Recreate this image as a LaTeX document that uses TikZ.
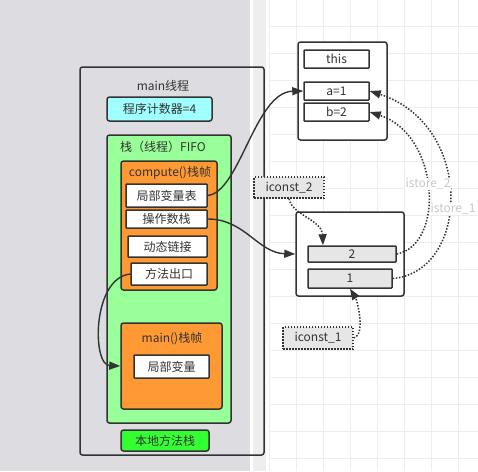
\documentclass[tikz,border=0pt]{standalone}
\usepackage{fontspec}
\setmainfont{Noto Sans CJK SC}
\usepackage{xcolor}
\usetikzlibrary{arrows.meta}
\definecolor{bg}{HTML}{DCDCE1}
\definecolor{band}{HTML}{EEEEEF}
\definecolor{gridc}{HTML}{EDEDED}
\definecolor{edge}{HTML}{333333}
\definecolor{pcc}{HTML}{A0FFFF}
\definecolor{stackg}{HTML}{99FF99}
\definecolor{frameo}{HTML}{FF9933}
\definecolor{nativeg}{HTML}{33FF33}
\definecolor{cellg}{HTML}{E6E6E6}
\definecolor{faint}{HTML}{C8C8C8}
\tikzset{
  box/.style={draw=edge, line width=1.5pt, rounded corners=2.5pt, inner sep=0pt},
  cell/.style={draw=edge, line width=1.5pt, fill=white, rounded corners=0.6pt, inner sep=0pt},
  dotbox/.style={draw=edge, line width=1.5pt, dash pattern=on 1.5pt off 1.5pt, fill=cellg, inner sep=0pt},
  gridln/.style={draw=gridc, line width=0.8pt},
  link/.style={draw=edge, line width=1.4pt, -{Triangle[length=11pt,width=8pt]}},
  dotlink/.style={draw=edge, line width=1.5pt, dash pattern=on 1.5pt off 1.6pt, -{Triangle[length=11pt,width=8pt]}},
  lab/.style={text=edge, font=\fontsize{12}{14}\selectfont},
  labf/.style={text=faint, font=\fontsize{12}{14}\selectfont, fill=white, inner sep=1pt},
}

\begin{document}
\begin{tikzpicture}[x=1pt,y=-1pt]
  \useasboundingbox (0,0) rectangle (478,471);
  \fill[white] (0,0) rectangle (478,471);
  \fill[bg] (0,0) rectangle (250,471);
  \fill[band] (253,0) rectangle (266,471);
  \foreach \x in {269,296,...,458}{
    \draw[gridln] (\x,0) -- (\x,471);
  }
  \foreach \y in {26,53,...,458}{
    \draw[gridln] (269,\y) -- (478,\y);
  }

  % thread
  \node[box, minimum width=184pt, minimum height=388pt] (thread) at (172,261) {};
  \node[lab] (threadlab) at (163,86) {main线程};
  \node[box, lab, fill=pcc, minimum width=105pt, minimum height=24pt] (pc) at (159.5,109) {程序计数器=4};
  \node[box, fill=stackg, minimum width=124pt, minimum height=288pt] (stack) at (169,279) {};
  \node[lab] (stacklab) at (163,147) {栈（线程）FIFO};

  % compute() frame
  \node[box, fill=frameo, minimum width=96pt, minimum height=129pt] (comp) at (169,225.5) {};
  \node[lab] (complab) at (170,173) {compute()栈帧};
  \node[cell, lab, minimum width=81pt, minimum height=23pt] (lvt) at (166.5,195.5) {局部变量表};
  \node[cell, lab, minimum width=81pt, minimum height=18pt] (ops) at (166.5,219) {操作数栈};
  \node[cell, lab, minimum width=79pt, minimum height=21pt] (dyn) at (167.5,246.5) {动态链接};
  \node[cell, lab, minimum width=76pt, minimum height=22pt] (ret) at (169,274) {方法出口};

  % main() frame
  \node[box, fill=frameo, minimum width=101pt, minimum height=86pt] (mainf) at (171.5,366) {};
  \node[lab] (mainlab) at (172,339) {main()栈帧};
  \node[cell, lab, minimum width=75pt, minimum height=23pt] (lv) at (171.5,366.5) {局部变量};
  \node[box, lab, fill=nativeg, minimum width=88pt, minimum height=21pt] (native) at (165,440.5) {本地方法栈};

  % heap object
  \node[box, fill=white, minimum width=89pt, minimum height=98pt] (obj) at (342.5,91) {};
  \node[cell, lab, minimum width=65pt, minimum height=18pt] (this) at (336.5,59) {this};
  \node[cell, lab, minimum width=65pt, minimum height=18pt] (a1) at (336.5,91) {a=1};
  \node[cell, lab, minimum width=65pt, minimum height=18pt] (b2) at (336.5,112) {b=2};

  % operand stack
  \node[box, fill=white, minimum width=108pt, minimum height=84pt] (opstk) at (350,254) {};
  \node[cell, lab, fill=cellg, minimum width=88pt, minimum height=16pt] (two) at (352,254) {2};
  \node[cell, lab, fill=cellg, minimum width=84pt, minimum height=19pt] (one) at (350,278.5) {1};
  \node[dotbox, lab, minimum width=70pt, minimum height=21pt] (ic2) at (289,187.5) {iconst\_2};
  \node[dotbox, lab, minimum width=70pt, minimum height=22pt] (ic1) at (318,338) {iconst\_1};

  % connectors
  \draw[link] (lvt.east) .. controls (240,192) and (255,92) .. (a1.west);
  \draw[link] (ops.east) .. controls (245,219) and (258,253) .. (opstk.west);
  \draw[link] (ret.west) .. controls (92,278) and (92,365) .. (mainf.west);
  \draw[dotlink] (ic2.south) .. controls (292,215) and (322,220) .. (two.north -| 323,0);
  \draw[dotlink] (ic1.east) .. controls (366,335) and (357,300) .. (one.south);
  \draw[dotlink] (two.east) .. controls (445,245) and (440,135) .. (b2.east);
  \draw[dotlink] (one.east) .. controls (470,272) and (475,125) .. (a1.east);
  \node[labf] (st2) at (428,184) {istore\_2};
  \node[labf] (st1) at (453,209) {istore\_1};
\end{tikzpicture}
\end{document}
